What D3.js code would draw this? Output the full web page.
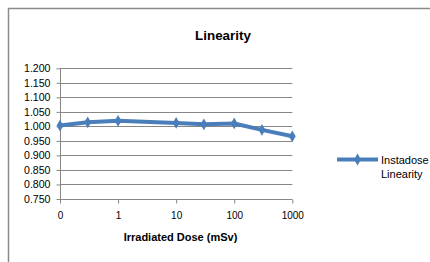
<!DOCTYPE html>
<html>
<head>
<meta charset="utf-8">
<script src="https://cdn.jsdelivr.net/npm/d3@7"></script>
<style>
  body { margin: 0; background: #fff; }
  svg { display: block; font-family: "Liberation Sans", Arial, sans-serif; }
</style>
</head>
<body>
<svg id="chart" width="430" height="262"></svg>
<script>
// Dose values (mSv) and measured linearity
const doses = [0.1, 0.3, 1, 10, 30, 100, 300, 1000];
const linearity = [1.003, 1.014, 1.019, 1.012, 1.007, 1.010, 0.988, 0.966];
const xTicks = [0.1, 1, 10, 100, 1000];
const xTickLabels = ["0", "1", "10", "100", "1000"];
const yTicks = [0.75, 0.8, 0.85, 0.9, 0.95, 1.0, 1.05, 1.1, 1.15, 1.2];
const seriesName = ["Instadose", "Linearity"];

const svg = d3.select("#chart");
const blue = "#4a7ebb";
const grid = "#878787";

// outer chart border (only top and left show)
svg.append("path")
    .attr("d", "M8.5,262V8.5H430")
    .attr("fill", "none")
    .attr("stroke", "#8c8c8c")
    .attr("stroke-width", 1.5);

var x = d3.scaleLog().domain([0.1, 1000]).range([60, 292.3]);
var y = d3.scaleLinear().domain([0.75, 1.2]).range([199, 68.3]);

// gridlines
svg.append("g").selectAll("line")
  .data(yTicks.slice(1))
  .enter().append("line")
    .attr("x1", x(0.1)).attr("x2", x(1000))
    .attr("y1", d => Math.round(y(d)) + 0.5)
    .attr("y2", d => Math.round(y(d)) + 0.5)
    .attr("stroke", grid);

// y axis
var yAxis = svg.append("g")
    .attr("transform", "translate(" + (x(0.1) + 0.5) + ",0)")
    .call(d3.axisLeft(y).tickValues(yTicks).tickFormat(d3.format(".3f")).tickSize(4).tickPadding(6));

// x axis
var xAxis = svg.append("g")
    .attr("transform", "translate(0," + (Math.round(y(0.75)) + 0.5) + ")")
    .call(d3.axisBottom(x).tickValues(xTicks)
      .tickFormat((d, i) => xTickLabels[i]).tickSize(4).tickPadding(6));

[yAxis, xAxis].forEach(function(a) {
  a.selectAll("path, line").attr("stroke", grid);
  a.selectAll("text").attr("fill", "#000").style("font-size", "10px");
  a.select(".domain").attr("d", null);
});
yAxis.selectAll("text").style("font-size", "10.6px");
yAxis.append("line").attr("y1", y(1.2)).attr("y2", y(0.75)).attr("stroke", grid);
xAxis.append("line").attr("x1", x(0.1)).attr("x2", x(1000)).attr("stroke", grid);
xAxis.selectAll("text").attr("dy", "0.95em");

// series line
var line = d3.line()
    .x((d, i) => x(doses[i]))
    .y(d => y(d));

svg.append("path")
    .datum(linearity)
    .attr("d", line)
    .attr("fill", "none")
    .attr("stroke", blue)
    .attr("stroke-width", 4)
    .attr("stroke-linejoin", "round");

var diamond = d3.symbol().type(d3.symbolDiamond).size(40);
svg.append("g").selectAll("path")
  .data(linearity)
  .enter().append("path")
    .attr("d", diamond)
    .attr("transform", (d, i) => "translate(" + x(doses[i]) + "," + y(d) + ")")
    .attr("fill", blue);

// title
svg.append("text")
    .attr("x", 223).attr("y", 39.5)
    .attr("text-anchor", "middle")
    .style("font-size", "13.4px")
    .style("font-weight", "bold")
    .text("Linearity");

svg.append("text")
    .attr("x", 180.5).attr("y", 241)
    .attr("text-anchor", "middle")
    .style("font-size", "11px")
    .style("font-weight", "bold")
    .text("Irradiated Dose (mSv)");

// legend
var legend = svg.append("g");
legend.append("line")
    .attr("x1", 337).attr("x2", 378)
    .attr("y1", 159.5).attr("y2", 159.5)
    .attr("stroke", blue).attr("stroke-width", 4);
legend.append("path")
    .attr("d", diamond)
    .attr("transform", "translate(357.5,159.5)")
    .attr("fill", blue);
legend.selectAll("text")
  .data(seriesName)
  .enter().append("text")
    .attr("x", 381)
    .attr("y", (d, i) => 163.5 + i * 14)
    .style("font-size", "11px")
    .text(d => d);
</script>
</body>
</html>
